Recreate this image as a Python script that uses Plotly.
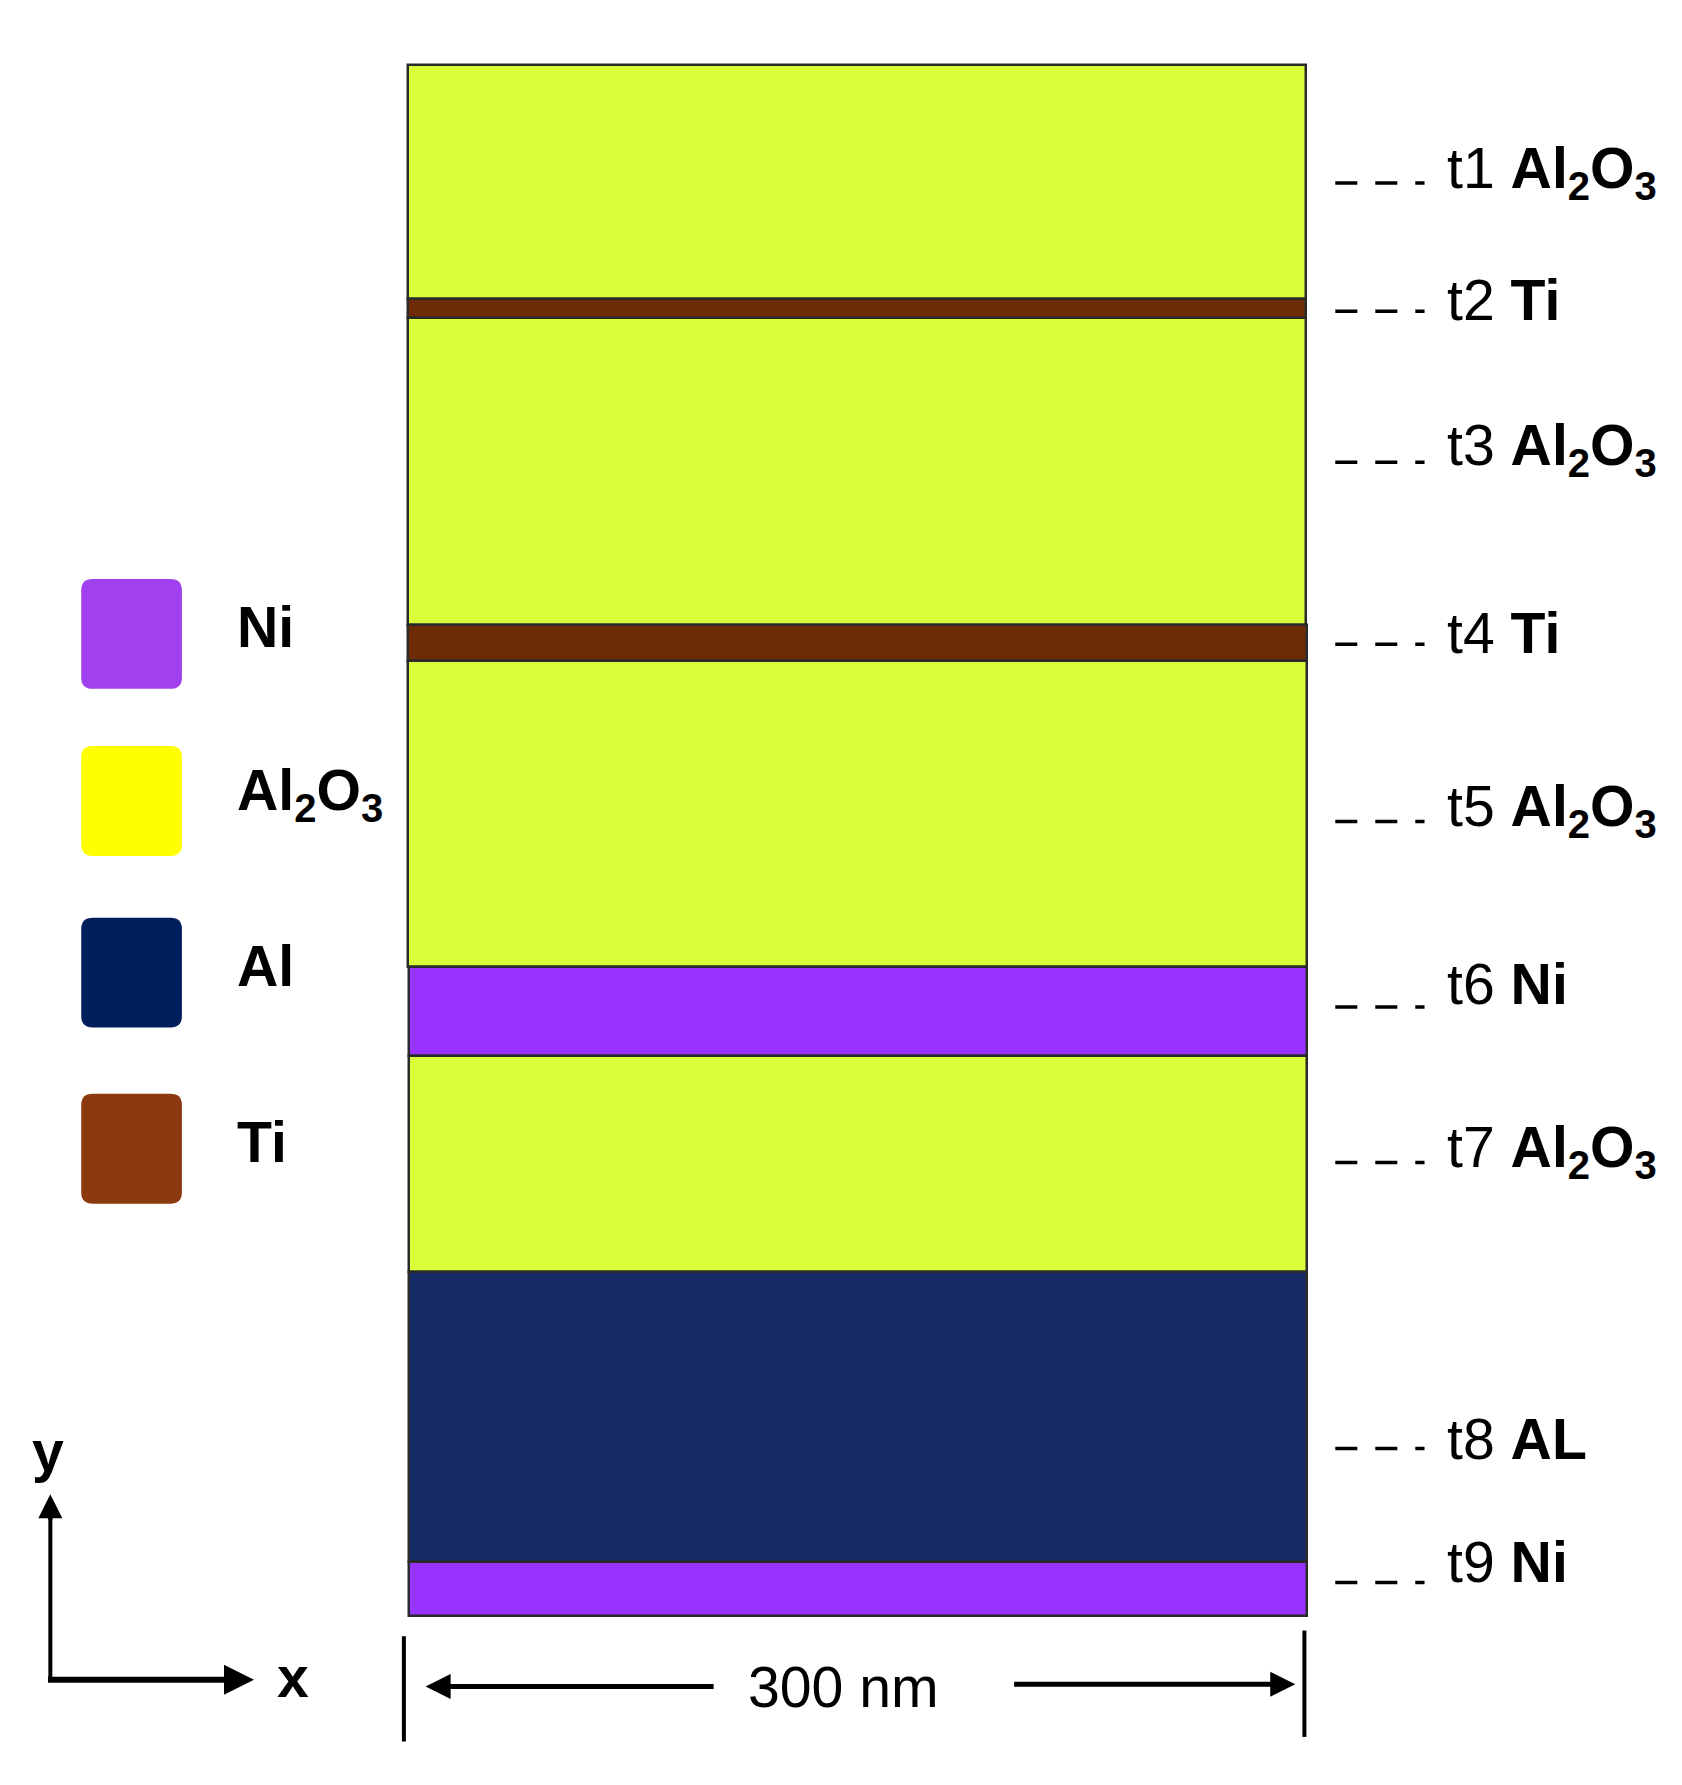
import plotly.graph_objects as go

# layer stack, top to bottom (thickness in picture units, width 300 nm)
layer_names = ["t1", "t2", "t3", "t4", "t5", "t6", "t7", "t8", "t9"]
layer_labels = ["Al<sub>2</sub>O<sub>3</sub>", "Ti", "Al<sub>2</sub>O<sub>3</sub>", "Ti",
                "Al<sub>2</sub>O<sub>3</sub>", "Ni", "Al<sub>2</sub>O<sub>3</sub>", "AL", "Ni"]
layer_mat = ["Al2O3", "Ti", "Al2O3", "Ti", "Al2O3", "Ni", "Al2O3", "Al", "Ni"]
layer_thick = [204, 17, 268, 32, 267, 78, 189, 253, 47]
label_y = [150, 262, 392, 553, 708, 860, 1006, 1258, 1365]
dash_y = [160, 272, 404, 563, 718, 880, 1016, 1266, 1383]
width_nm = 300

layer_colors = {"Al2O3": "#d8ff3a", "Ti": "#6e2c06", "Ni": "#9933ff", "Al": "#162a66"}
legend_names = ["Ni", "Al<sub>2</sub>O<sub>3</sub>", "Al", "Ti"]
legend_colors = ["#a040ee", "#ffff00", "#001e5c", "#8b3a0f"]
legend_top = [506, 652, 802, 956]

S = 1.144  # picture units -> px
x_left, x_right, y_top = 357, 1142, 57
off = 7  # page body margin compensation

fig = go.Figure()
base = y_top
for n, m, t in zip(layer_names, layer_mat, layer_thick):
    fig.add_trace(go.Bar(x=[(x_left + x_right) / 2], y=[t], base=[base], width=[x_right - x_left],
                         marker=dict(color=layer_colors[m], line=dict(color="#2a2a2a", width=2.5)),
                         name=n, showlegend=False, hoverinfo="skip"))
    base += t

font_b = dict(family="Liberation Sans", size=50 * S, color="black")
for n, lab, ly, dy in zip(layer_names, layer_labels, label_y, dash_y):
    fig.add_shape(type="line", x0=1167, x1=1245, y0=dy, y1=dy,
                  line=dict(color="black", width=3.5, dash="22px,18px"))
    fig.add_annotation(x=1263, y=ly, text=f"{n} <b>{lab}</b>", showarrow=False,
                       xanchor="left", yanchor="middle", font=font_b)

for name, col, top in zip(legend_names, legend_colors, legend_top):
    x0, x1, y0, y1, r = 71, 159, top, top + 96, 10
    path = (f"M {x0+r},{y0} L {x1-r},{y0} Q {x1},{y0} {x1},{y0+r} L {x1},{y1-r} Q {x1},{y1} {x1-r},{y1} "
            f"L {x0+r},{y1} Q {x0},{y1} {x0},{y1-r} L {x0},{y0+r} Q {x0},{y0} {x0+r},{y0} Z")
    fig.add_shape(type="path", path=path, fillcolor=col, line=dict(width=0))
    fig.add_annotation(x=205, y=top + 42, text=f"<b>{name}</b>", showarrow=False,
                       xanchor="left", yanchor="middle", font=font_b)

# axis glyph
fig.add_shape(type="line", x0=44, x1=44, y0=1468, y1=1325, line=dict(color="black", width=4))
fig.add_shape(type="line", x0=42, x1=205, y0=1468, y1=1468, line=dict(color="black", width=6))
fig.add_annotation(x=44, y=1306, ax=44, ay=1330, axref="x", ayref="y", text="", showarrow=True,
                   arrowhead=2, arrowsize=1.2, arrowwidth=4, arrowcolor="black")
fig.add_annotation(x=222, y=1468, ax=200, ay=1468, axref="x", ayref="y", text="", showarrow=True,
                   arrowhead=2, arrowsize=1, arrowwidth=6, arrowcolor="black")
fig.add_annotation(x=42, y=1268, text="<b>y</b>", showarrow=False, font=font_b)
fig.add_annotation(x=256, y=1466, text="<b>x</b>", showarrow=False, font=font_b)

# 300 nm dimension
fig.add_shape(type="line", x0=353, x1=353, y0=1430, y1=1522, line=dict(color="black", width=4))
fig.add_shape(type="line", x0=1140, x1=1140, y0=1425, y1=1518, line=dict(color="black", width=4))
fig.add_annotation(x=372, y=1474, ax=625, ay=1474, axref="x", ayref="y", text="", showarrow=True,
                   arrowhead=2, arrowsize=1, arrowwidth=5, arrowcolor="black")
fig.add_annotation(x=1132, y=1472, ax=885, ay=1472, axref="x", ayref="y", text="", showarrow=True,
                   arrowhead=2, arrowsize=1, arrowwidth=5, arrowcolor="black")
fig.add_annotation(x=737, y=1474, text=f"{width_nm} nm", showarrow=False,
                   font=dict(family="Liberation Sans", size=50 * S, color="black"))

fig.update_layout(width=1682, height=1785, margin=dict(l=0, r=0, t=0, b=0),
                  plot_bgcolor="white", paper_bgcolor="white", bargap=0,
                  xaxis=dict(range=[off, 1470 + off], visible=False, fixedrange=True),
                  yaxis=dict(range=[1560 + off, off], visible=False, fixedrange=True))
fig.write_html("out.html")
